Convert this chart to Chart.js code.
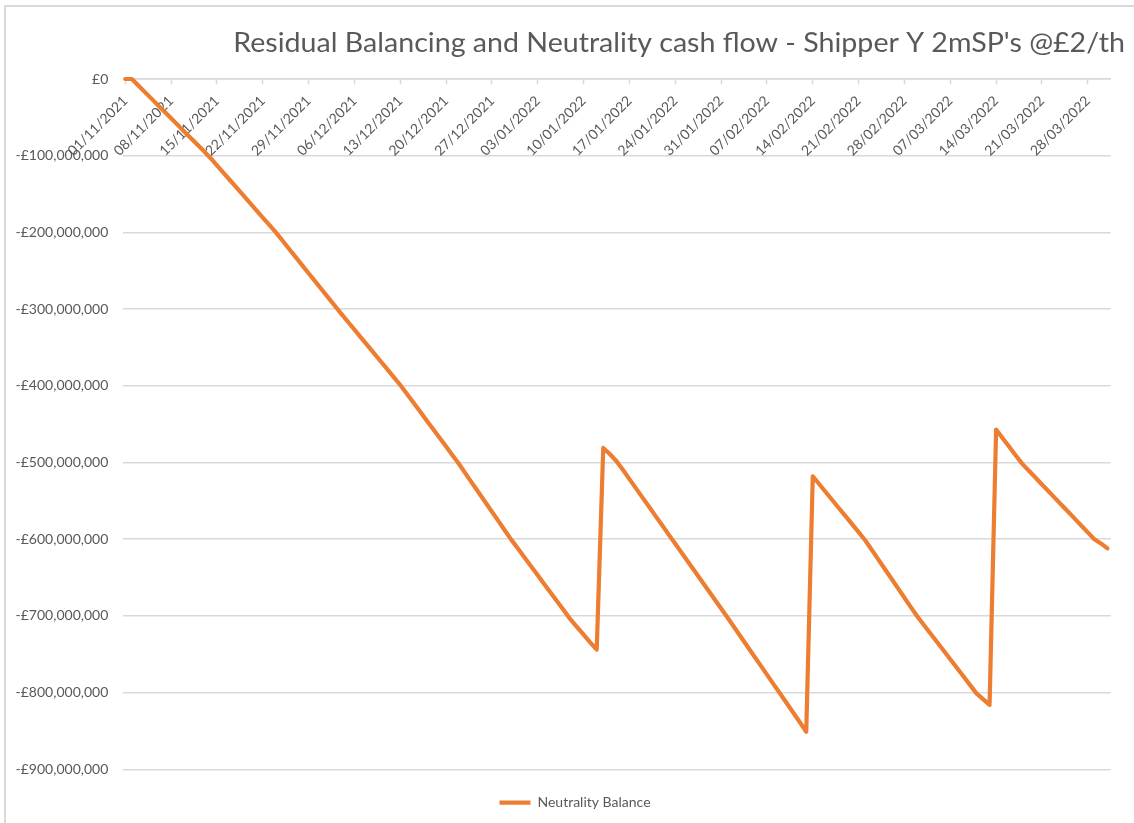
<!DOCTYPE html>
<html>
<head>
<meta charset="utf-8">
<title>Residual Balancing and Neutrality cash flow</title>
<script src="https://cdn.jsdelivr.net/npm/chart.js@4.4.1/dist/chart.umd.min.js"></script>
<style>
  html, body { margin: 0; padding: 0; background: #fff; }
  canvas { display: block; }
</style>
</head>
<body>
<canvas id="balance-chart" width="1134" height="823"></canvas>
<script>
const chartTitle = "Residual Balancing and Neutrality cash flow - Shipper Y 2mSP's @£2/th";
const seriesName = 'Neutrality Balance';

// one value per day, 01/11/2021 .. 31/03/2022, in £ millions
const neutralityBalance = [
    0, 0, -8.5, -17.1, -25.6, -34.2, -42.7, -51.3, -59.8, -68.4,
    -76.9, -85.5, -94.0, -102.9, -112.6, -122.3, -132.0, -141.7, -151.5, -161.2,
    -170.9, -180.6, -190.3, -200.0, -210.6, -221.3, -231.9, -242.6, -253.2, -263.8,
    -274.5, -285.1, -295.7, -306.2, -316.5, -326.8, -337.1, -347.4, -357.7, -368.0,
    -378.3, -388.6, -399.0, -410.3, -421.8, -433.3, -444.8, -456.3, -467.8, -479.3,
    -490.8, -502.3, -514.8, -527.2, -539.5, -551.9, -564.2, -576.5, -588.9, -601.2,
    -612.6, -624.1, -635.6, -647.1, -658.6, -670.1, -681.6, -693.1, -704.6, -714.5,
    -724.5, -734.5, -744.0,
    -481.0, -489.0, -498.0, -509.6, -521.7, -533.7, -545.8, -557.8, -569.9, -581.9,
    -594.0, -606.0, -618.1, -630.1, -642.2, -654.2, -666.3, -678.3, -690.4, -702.4,
    -714.8, -727.2, -739.5, -751.9, -764.2, -776.5, -788.9, -801.2, -813.6, -826.0,
    -838.4, -851.0,
    -518.0, -528.4, -538.8, -549.2, -559.6, -570.0, -580.3, -590.7, -601.3, -613.8,
    -626.3, -638.8, -651.3, -663.8, -676.3, -688.8, -701.1, -712.2, -723.3, -734.4,
    -745.5, -756.6, -767.7, -778.8, -789.9, -801.0, -808.5, -816.0,
    -457.0, -468.3, -479.6, -490.9, -501.8, -510.7, -519.6, -528.6, -537.5, -546.4,
    -555.4, -564.3, -573.2, -582.1, -591.1, -600.0, -605.5, -612.0
];

// weekly date labels (every 7th day)
const xTickLabels = [
    '01/11/2021', '08/11/2021', '15/11/2021', '22/11/2021', '29/11/2021', '06/12/2021',
    '13/12/2021', '20/12/2021', '27/12/2021', '03/01/2022', '10/01/2022', '17/01/2022',
    '24/01/2022', '31/01/2022', '07/02/2022', '14/02/2022', '21/02/2022', '28/02/2022',
    '07/03/2022', '14/03/2022', '21/03/2022', '28/03/2022'
];

const yTickLabels = [
    '£0', '-£100,000,000', '-£200,000,000', '-£300,000,000', '-£400,000,000',
    '-£500,000,000', '-£600,000,000', '-£700,000,000', '-£800,000,000', '-£900,000,000'
];

const textColor = '#595959';
const gridColor = '#d9d9d9';
const lineColor = '#ED7D31';
const fontFamily = 'Lato, "Open Sans", sans-serif';

// chart frame + title drawn like the spreadsheet chart
const sheetFrame = {
    id: 'sheetFrame',
    beforeDraw(chart) {
        const ctx = chart.ctx;
        ctx.save();
        ctx.strokeStyle = gridColor;
        ctx.lineWidth = 2;
        ctx.beginPath();
        ctx.moveTo(5, chart.height);
        ctx.lineTo(5, 6);
        ctx.lineTo(chart.width, 6);
        ctx.stroke();

        ctx.font = '26px ' + fontFamily;
        ctx.fillStyle = textColor;
        ctx.textBaseline = 'alphabetic';
        const w = ctx.measureText(chartTitle).width;
        ctx.translate(233.3, 51.5);
        ctx.scale(891.7 / w, 1);
        ctx.fillText(chartTitle, 0, 0);
        ctx.restore();
    }
};

const ctx = document.getElementById('balance-chart');

new Chart(ctx, {
    type: 'line',
    data: {
        datasets: [{
            label: seriesName,
            data: neutralityBalance.map((v, i) => ({ x: i, y: v })),
            borderColor: lineColor,
            backgroundColor: lineColor,
            borderWidth: 4.2,
            borderCapStyle: 'round',
            borderJoinStyle: 'round',
            pointRadius: 0,
            tension: 0,
            clip: false
        }]
    },
    options: {
        responsive: false,
        animation: false,
        layout: {
            padding: { left: 16, right: 0, top: 79, bottom: 3.3 }
        },
        plugins: {
            title: { display: false },
            tooltip: { enabled: false },
            legend: {
                position: 'bottom',
                labels: {
                    usePointStyle: true,
                    pointStyle: 'line',
                    pointStyleWidth: 31,
                    padding: 26.4,
                    color: textColor,
                    font: { family: fontFamily, size: 14 }
                }
            }
        },
        scales: {
            x: {
                type: 'linear',
                position: { y: 0 },
                min: -0.3,
                max: 150.5,
                afterBuildTicks: scale => {
                    scale.ticks = xTickLabels.map((_, i) => ({ value: i * 7 }));
                },
                grid: {
                    drawOnChartArea: false,
                    drawTicks: true,
                    tickLength: 5,
                    tickColor: gridColor,
                    tickWidth: 1.5
                },
                border: { display: true, color: gridColor, width: 1.5 },
                ticks: {
                    autoSkip: false,
                    minRotation: 45,
                    maxRotation: 45,
                    padding: 8.6,
                    color: textColor,
                    font: { family: fontFamily, size: 14 },
                    callback: (value, index) => xTickLabels[index]
                }
            },
            y: {
                min: -900,
                max: 0,
                afterFit: scale => { scale.width = 107.3; },
                grid: {
                    color: gridColor,
                    lineWidth: 1.5,
                    drawTicks: false
                },
                border: { display: false },
                ticks: {
                    stepSize: 100,
                    padding: 15,
                    color: textColor,
                    font: { family: fontFamily, size: 14 },
                    callback: value => yTickLabels[Math.round(-value / 100)]
                }
            },
            // empty strip on the right, keeps the plot clear of the edge
            yRight: {
                position: 'right',
                afterFit: scale => { scale.width = 23.3; },
                grid: { display: false },
                border: { display: false },
                ticks: { display: false }
            }
        }
    },
    plugins: [sheetFrame]
});
</script>
</body>
</html>
